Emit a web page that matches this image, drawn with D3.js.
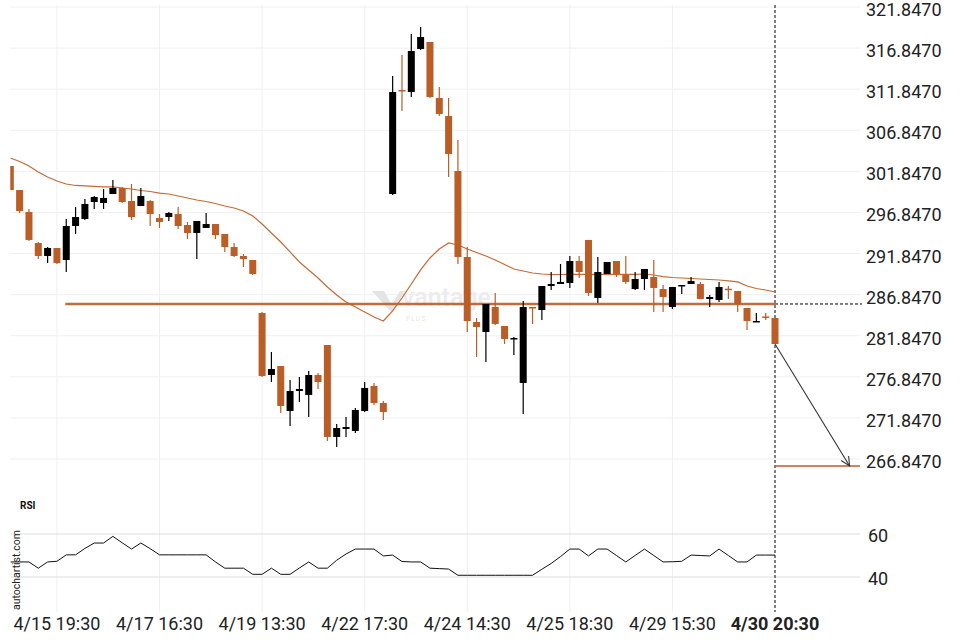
<!DOCTYPE html>
<html><head><meta charset="utf-8">
<script src="https://cdn.jsdelivr.net/npm/d3@7"></script>
<style>body{margin:0;background:#fff;} svg{display:block;font-family:Roboto, "Noto Sans", sans-serif;}</style>
</head><body><svg id="c" width="960" height="640"></svg>
<script>
// ---- data ----
const opens  = [302.50,299.58,296.90,293.13,291.55,292.52,291.06,295.20,296.05,298.12,298.00,299.09,299.82,298.24,297.63,298.24,296.17,296.29,296.66,295.32,294.35,294.96,295.44,294.23,292.64,291.55,291.06,284.61,277.07,278.16,272.69,275.12,274.64,277.07,280.72,269.53,270.50,270.26,272.69,275.73,273.66,299.09,311.75,311.50,316.74,317.59,310.77,308.58,301.89,291.43,283.52,282.30,285.34,283.03,281.45,276.10,285.34,284.98,287.90,288.14,288.26,290.94,293.50,286.44,289.36,290.94,289.24,287.53,288.75,288.99,287.53,285.34,287.90,288.14,288.14,286.32,286.20,287.57,287.29,285.22,283.52,284.19,284.00];
const highs  = [302.50,299.58,297.27,293.25,292.64,292.52,296.05,297.51,298.49,298.85,299.70,300.80,299.95,300.31,299.82,298.36,296.66,296.90,297.51,295.69,295.81,296.78,295.44,294.23,293.13,291.79,291.06,284.74,279.87,278.16,276.46,276.83,277.56,277.31,280.72,271.11,271.96,273.05,276.22,276.10,273.91,313.45,316.01,318.56,319.41,317.59,312.11,310.77,305.66,292.64,284.00,285.71,287.05,283.03,281.69,286.07,285.34,287.90,289.60,290.58,291.55,291.55,293.50,291.43,290.82,290.94,291.55,289.60,289.97,291.06,288.02,287.78,288.02,288.99,288.39,286.80,288.39,287.90,287.29,285.22,284.61,284.61,284.00];
const lows   = [299.58,296.78,293.37,291.18,290.70,290.58,289.60,294.23,295.93,297.27,297.27,299.09,298.00,295.93,297.63,295.20,294.96,295.81,294.83,293.62,291.18,294.96,293.62,292.04,291.43,290.21,289.24,276.83,276.22,272.45,270.86,273.78,271.96,275.37,269.04,268.31,269.53,270.01,272.57,273.42,271.59,298.97,309.19,310.90,316.62,310.77,308.58,301.16,290.58,282.30,279.26,278.65,283.15,280.84,279.50,272.32,283.28,283.76,287.41,288.14,287.66,288.87,286.68,285.83,289.36,288.99,288.14,287.41,287.41,284.74,284.74,285.10,286.93,288.14,286.32,285.34,285.95,286.32,284.74,282.55,283.52,283.76,280.84];
const closes = [299.58,297.02,293.50,291.55,292.52,290.70,295.20,296.29,297.88,298.73,298.61,299.82,298.12,296.29,298.85,296.66,295.69,296.78,295.20,294.35,295.81,295.44,294.10,292.64,291.55,291.18,289.36,276.95,277.80,273.30,275.12,275.37,277.07,276.22,269.53,270.62,270.74,272.81,275.49,273.66,272.57,311.50,311.63,316.49,318.20,310.90,308.83,303.96,291.43,283.64,282.91,285.71,283.28,281.45,281.57,285.34,285.22,287.90,288.14,288.39,290.94,289.60,287.05,289.60,290.82,289.36,288.39,288.75,289.97,287.66,286.56,287.78,288.02,288.51,286.32,286.56,287.78,287.50,285.71,283.64,283.64,284.13,280.84];
const maValues = [303.47,303.05,302.50,301.77,301.16,300.68,300.31,300.13,300.07,300.01,299.95,299.95,299.82,299.70,299.52,299.40,299.21,299.09,298.85,298.61,298.36,298.18,297.94,297.63,297.39,297.02,296.42,295.44,294.35,293.25,292.04,290.82,289.85,288.87,287.78,286.80,285.95,285.34,284.74,284.13,283.64,284.86,286.44,288.14,289.85,291.31,292.40,293.13,292.89,292.40,291.97,291.55,291.06,290.51,289.97,289.72,289.48,289.36,289.30,289.30,289.32,289.32,289.32,289.32,289.32,289.32,289.32,289.32,289.36,289.24,289.05,288.93,288.87,288.81,288.75,288.69,288.63,288.51,288.39,287.90,287.59,287.41,287.17];
const rsiValues = [47.0,47.0,47.0,44.1,47.0,47.3,50.3,50.3,53.3,55.8,55.8,58.9,55.9,53.0,55.8,53.2,50.3,50.3,50.3,50.3,50.3,50.3,47.0,44.1,44.1,44.1,41.25,41.25,44.1,41.25,41.25,44.2,47.0,44.1,44.1,47.8,50.7,53.0,53.0,53.0,49.8,50.2,47.2,47.0,47.0,44.1,43.9,43.7,40.8,40.8,40.8,40.8,40.8,40.8,40.8,40.8,40.8,43.6,46.3,49.5,53.0,53.0,49.8,53.0,53.0,50.0,47.0,50.0,53.0,50.0,47.0,47.1,47.3,50.2,50.0,49.8,53.0,50.0,47.0,47.0,50.2,50.2,50.2];
const priceTicks = [321.847,316.847,311.847,306.847,301.847,296.847,291.847,286.847,281.847,276.847,271.847,266.847];
const rsiTicks = [60, 40];
const timeTickIndex  = [5,16,27,38,49,60,71,82];
const timeTickLabels = ["4/15 19:30","4/17 16:30","4/19 13:30","4/22 17:30","4/24 14:30","4/25 18:30","4/29 15:30","4/30 20:30"];
const resistanceLevel = 285.71;
const resistanceStartIndex = 5.9;
const targetLevel = 266.0;
const targetIndex = 90;

// ---- layout ----
const W = 960, H = 640;
const plotLeft = 10.5, plotRight = 860, priceBottom = 490;
const ORANGE = "#bb5d27", BLACK = "#000";
const svg = d3.select("#c");

const n = closes.length;
const x = d3.scaleLinear().domain([0, n - 1]).range([10.3, 775]);
const y = d3.scaleLinear().domain([266.847, 321.847]).range([459, 7]);
const yr = d3.scaleLinear().domain([40, 60]).range([577, 534]);
const lastX = x(n - 1);

svg.append("rect").attr("width", W).attr("height", H).attr("fill", "#fff");

// gridlines
const grid = svg.append("g");
grid.selectAll("line.h").data(priceTicks).join("line")
  .attr("x1", plotLeft).attr("x2", plotRight)
  .attr("y1", d => y(d)).attr("y2", d => y(d))
  .attr("stroke", "#f0f0f0").attr("stroke-width", 1);
grid.selectAll("line.v").data(timeTickIndex.slice(0, -1)).join("line")
  .attr("x1", d => x(d)).attr("x2", d => x(d))
  .attr("y1", 5).attr("y2", 612)
  .attr("stroke", "#f0f0f0").attr("stroke-width", 1);
grid.selectAll("line.r").data(rsiTicks).join("line")
  .attr("x1", plotLeft).attr("x2", plotRight)
  .attr("y1", d => yr(d)).attr("y2", d => yr(d))
  .attr("stroke", "#dddddd").attr("stroke-width", 1);

// watermark
const wm = svg.append("g");
wm.append("path").attr("d", "M372,291 L384,291 L392,305 L400,291 L405,291 L392,313 Z").attr("fill", "#e4e4e4");
wm.append("text").attr("x", 402).attr("y", 306).attr("font-size", 25).attr("fill", "#ececec").attr("font-weight", 500).text("vantage");
wm.append("text").attr("x", 406).attr("y", 321).attr("font-size", 7).attr("fill", "#f3e3d8").attr("font-style", "italic").attr("letter-spacing", 1).text("PLUS");

// vertical dashed "now" line (beneath candles)
svg.append("line").attr("x1", lastX).attr("x2", lastX).attr("y1", 5).attr("y2", 612)
  .attr("stroke", "#000").attr("stroke-width", 1).attr("stroke-dasharray", "3,2");

// clip
svg.append("clipPath").attr("id", "clipP").append("rect")
  .attr("x", plotLeft).attr("y", 0).attr("width", plotRight - plotLeft).attr("height", priceBottom);
svg.append("clipPath").attr("id", "clipR").append("rect")
  .attr("x", plotLeft).attr("y", 490).attr("width", plotRight - plotLeft).attr("height", 130);
const plot = svg.append("g").attr("clip-path", "url(#clipP)");

// moving average
const maLine = d3.line().x((d, i) => x(i)).y(d => y(d));
plot.append("path").datum(maValues).attr("d", maLine)
  .attr("fill", "none").attr("stroke", "#c46a35").attr("stroke-width", 1.2);

// resistance line
plot.append("line")
  .attr("x1", x(resistanceStartIndex)).attr("x2", lastX)
  .attr("y1", y(resistanceLevel)).attr("y2", y(resistanceLevel))
  .attr("stroke", ORANGE).attr("stroke-width", 2.5).attr("opacity", 0.9);
svg.append("line")
  .attr("x1", lastX).attr("x2", 862)
  .attr("y1", y(resistanceLevel)).attr("y2", y(resistanceLevel))
  .attr("stroke", "#000").attr("stroke-width", 1).attr("stroke-dasharray", "3,2");

// candles
const candles = d3.range(n).map(i => ({i, o: opens[i], h: highs[i], l: lows[i], c: closes[i]}));
const cg = plot.selectAll("g.candle").data(candles).join("g");
cg.append("line")
  .attr("x1", d => x(d.i)).attr("x2", d => x(d.i))
  .attr("y1", d => y(d.h)).attr("y2", d => y(d.l))
  .attr("stroke", d => d.c >= d.o ? BLACK : ORANGE).attr("stroke-width", 1.2);
cg.append("rect")
  .attr("x", d => x(d.i) - 3.5).attr("width", 7)
  .attr("y", d => y(Math.max(d.o, d.c)))
  .attr("height", d => Math.max(1.5, Math.abs(y(d.o) - y(d.c))))
  .attr("fill", d => d.c >= d.o ? BLACK : ORANGE);

// target line + arrow
svg.append("line")
  .attr("x1", lastX).attr("x2", plotRight)
  .attr("y1", y(targetLevel)).attr("y2", y(targetLevel))
  .attr("stroke", ORANGE).attr("stroke-width", 1.5);
const ax1 = lastX, ay1 = y(closes[n - 1]), ax2 = x(targetIndex), ay2 = y(targetLevel);
svg.append("line").attr("x1", ax1).attr("y1", ay1).attr("x2", ax2).attr("y2", ay2)
  .attr("stroke", "#333").attr("stroke-width", 1.1);
const ang = Math.atan2(ay2 - ay1, ax2 - ax1), hl = 10, ha = 0.45;
svg.append("path")
  .attr("d", `M${ax2 - hl * Math.cos(ang - ha)},${ay2 - hl * Math.sin(ang - ha)} L${ax2},${ay2} L${ax2 - hl * Math.cos(ang + ha)},${ay2 - hl * Math.sin(ang + ha)}`)
  .attr("fill", "none").attr("stroke", "#333").attr("stroke-width", 1.1);

// RSI
const rsiLine = d3.line().x((d, i) => x(i)).y(d => yr(d));
svg.append("path").datum(rsiValues).attr("d", rsiLine).attr("clip-path", "url(#clipR)")
  .attr("fill", "none").attr("stroke", "#111").attr("stroke-width", 1);

svg.append("text").attr("x", 20).attr("y", 509).attr("font-size", 10).attr("font-weight", 700).attr("fill", "#111").text("RSI");
svg.append("text").attr("transform", "translate(20,610) rotate(-90)")
  .attr("font-size", 10.5).attr("fill", "#222").text("autochartist.com");

// axes labels
svg.append("g").selectAll("text").data(priceTicks).join("text")
  .attr("x", 866).attr("y", d => y(d)).attr("dy", "0.5em")
  .attr("font-size", 18).attr("fill", "#222").text(d => d.toFixed(4));
svg.append("g").selectAll("text").data(rsiTicks).join("text")
  .attr("x", 868).attr("y", d => yr(d)).attr("dy", "0.45em")
  .attr("font-size", 18).attr("fill", "#222").text(d => d);
svg.append("g").selectAll("text").data(timeTickIndex).join("text")
  .attr("x", d => x(d)).attr("y", 630).attr("text-anchor", "middle")
  .attr("font-size", 18).attr("fill", "#222")
  .attr("font-weight", (d, i) => i === timeTickIndex.length - 1 ? 700 : 400)
  .text((d, i) => timeTickLabels[i]);
</script></body></html>
